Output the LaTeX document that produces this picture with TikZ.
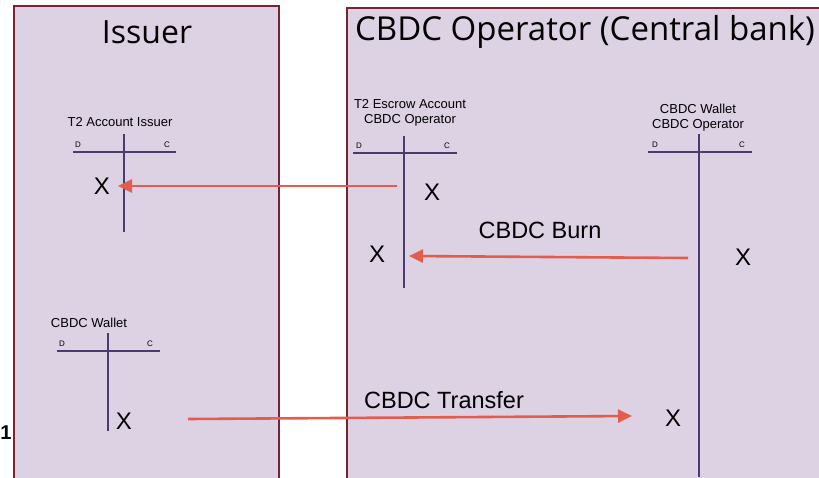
\documentclass[tikz,border=0pt]{standalone}
\usepackage{fontspec}
\setmainfont{Liberation Sans}
\newfontfamily\titlefont{Open Sans}
\usetikzlibrary{arrows.meta}
\definecolor{panelfill}{HTML}{DDD1E4}
\definecolor{panelline}{HTML}{7B2230}
\definecolor{tline}{HTML}{4B3A6B}
\definecolor{flowred}{HTML}{E35D4F}

\begin{document}
\begin{tikzpicture}[x=1pt,y=-1pt,
	panel/.style={fill=panelfill, draw=panelline, line width=1.6pt},
	tacc/.style={draw=tline, line width=1.3pt},
	accname/.style={font=\fontsize{13}{15}\selectfont, align=center, inner sep=0pt},
	dclabel/.style={font=\fontsize{8}{9}\selectfont, inner sep=0pt},
	entry/.style={font=\fontsize{24}{26}\selectfont, inner sep=0pt},
	flow/.style={draw=flowred, line width=2.6pt, -{Triangle[length=14pt,width=13pt]}},
	flowlabel/.style={font=\fontsize{23.5}{26}\selectfont, inner sep=0pt}]
			%%%%% START %%%%%
			\useasboundingbox (0, 0) rectangle (819, 477);
			
			\draw[panel] (14, 6) rectangle (279, 480);
			\draw[panel] (347, 8) rectangle (822, 480);
			\node[font=\titlefont\fontsize{32}{36}\selectfont] (issuer) at (147, 32) {Issuer};
			\node[font=\titlefont\fontsize{33}{36}\selectfont] (operator) at (585, 32) {CBDC Operator (Central bank)};
			
			% T2 account of the issuer
			\node[accname] (issuerT2) at (120, 122) {T2 Account Issuer};
			\draw[tacc] (73, 152) -- (176, 152);
			\draw[tacc] (124, 134) -- (124, 232);
			\node[dclabel] (issuerT2D) at (78, 145) {D};
			\node[dclabel] (issuerT2C) at (167, 145) {C};
			\node[entry] (issuerT2X) at (102, 186) {X};
			
			% wallet of the issuer
			\node[accname] (issuerWallet) at (89, 323) {CBDC Wallet};
			\draw[tacc] (57, 351) -- (160, 351);
			\draw[tacc] (108, 333) -- (108, 431);
			\node[dclabel] (issuerWalletD) at (62, 344) {D};
			\node[dclabel] (issuerWalletC) at (150, 344) {C};
			\node[entry] (issuerWalletX) at (124, 421) {X};
			
			% escrow account of the operator
			\node[accname] (escrow) at (410, 113) {T2 Escrow Account\\CBDC Operator};
			\draw[tacc] (353, 153) -- (457, 153);
			\draw[tacc] (404, 136) -- (404, 288);
			\node[dclabel] (escrowD) at (359, 146) {D};
			\node[dclabel] (escrowC) at (447, 146) {C};
			\node[entry] (escrowXC) at (432, 192) {X};
			\node[entry] (escrowXD) at (377, 254) {X};
			
			% wallet of the operator
			\node[accname] (opWallet) at (698, 118) {CBDC Wallet\\CBDC Operator};
			\draw[tacc] (648, 152) -- (752, 152);
			\draw[tacc] (699, 134) -- (699, 477);
			\node[dclabel] (opWalletD) at (655, 145) {D};
			\node[dclabel] (opWalletC) at (742, 145) {C};
			\node[entry] (opWalletXC) at (743, 257) {X};
			\node[entry] (opWalletXD) at (673, 418) {X};
			
			% flows
			\coordinate (refundStart) at (397, 186);
			\coordinate (refundEnd) at (118, 186);
			\draw[flow] (refundStart) -- (refundEnd);
			
			\coordinate (burnStart) at (688, 258);
			\coordinate (burnEnd) at (409, 256);
			\draw[flow] (burnStart) -- (burnEnd);
			\node[flowlabel] (burn) at (540, 230) {CBDC Burn};
			
			\coordinate (transferStart) at (188, 419);
			\coordinate (transferEnd) at (632, 416);
			\draw[flow] (transferStart) -- (transferEnd);
			\node[flowlabel] (transfer) at (444, 400) {CBDC Transfer};
			
			\node[font=\fontsize{20}{22}\selectfont\bfseries, inner sep=0pt] (pagenum) at (6, 433) {1};
			%%%%% END %%%%%
\end{tikzpicture}
\end{document}
